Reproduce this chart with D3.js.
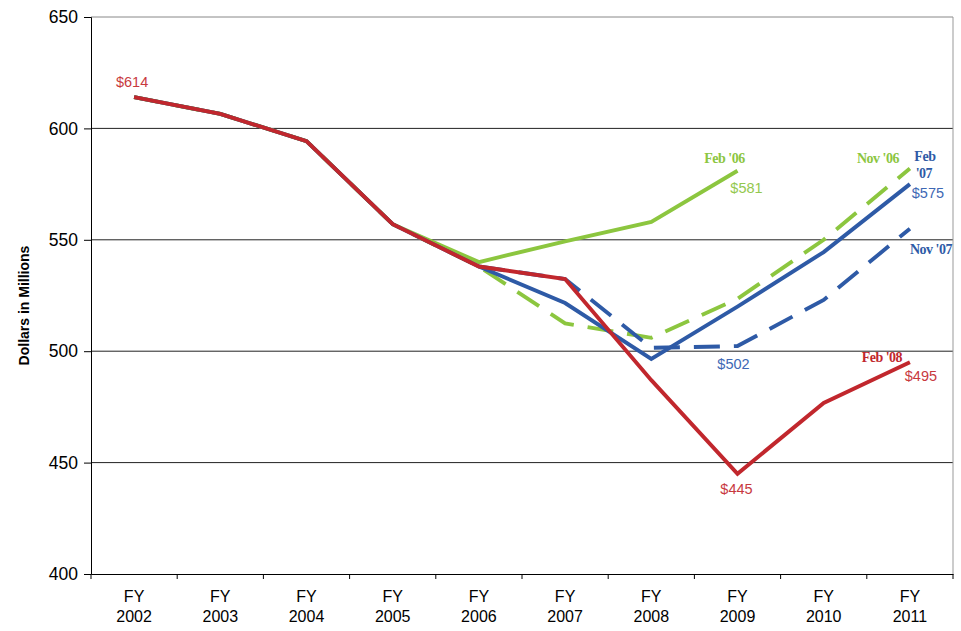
<!DOCTYPE html>
<html>
<head>
<meta charset="utf-8">
<script src="https://cdn.jsdelivr.net/npm/d3@7"></script>
<style>
  body { margin: 0; background: #fff; }
  text { font-family: "Liberation Sans", Arial, sans-serif; }
  .tag { font-family: "Liberation Serif", "Times New Roman", serif; font-weight: bold; letter-spacing: -0.5px; }
</style>
</head>
<body>
<svg id="chart" width="961" height="631"></svg>
<script>
const years = ["2002","2003","2004","2005","2006","2007","2008","2009","2010","2011"]
const yTicks = [400,450,500,550,600,650]

// estimates (dollars in millions); null = not plotted
const feb06 = [614,606.5,594.3,557,540,549.3,558,581,null,null]
const nov06 = [614,606.5,594.3,557,538,512.5,506,523.5,550,582]
const feb07 = [614,606.5,594.3,557,538,521.6,496.5,520,544.5,575]
const nov07 = [null,null,null,null,538,532.4,501.5,502.3,523,555]
const feb08 = [614,606.5,594.3,557,538,532.4,487,445,476.8,495]

const red = "#C1272D", green = "#8CC63F", blue = "#2E5AA6"

const series = [
  {name:"Nov '06", values:nov06, color:green, dash:"26,14"},
  {name:"Feb '06", values:feb06, color:green, dash:null},
  {name:"Nov '07", values:nov07, color:blue, dash:"26,14"},
  {name:"Feb '07", values:feb07, color:blue, dash:null},
  {name:"Feb '08", values:feb08, color:red, dash:null}
]

const margin = {top:17, right:8, bottom:57, left:91}
const width = 961, height = 631
const svg = d3.select("#chart")

const x = d3.scaleBand().domain(years).range([margin.left, width - margin.right])
const cx = d => x(d) + x.bandwidth() / 2
const y = d3.scaleLinear().domain([400,650]).range([height - margin.bottom, margin.top])

// grid
svg.append("g")
  .selectAll("line")
  .data(yTicks.slice(1))
  .join("line")
    .attr("x1", margin.left).attr("x2", width - margin.right)
    .attr("y1", d => y(d)).attr("y2", d => y(d))
    .attr("stroke", d => d === 650 ? "#888" : "#222")
    .attr("stroke-width", 1)

// right border
svg.append("line")
  .attr("x1", width - margin.right).attr("x2", width - margin.right)
  .attr("y1", margin.top).attr("y2", height - margin.bottom)
  .attr("stroke", "#999")

// y axis
const yAxis = svg.append("g")
  .attr("transform", `translate(${margin.left},0)`)
  .call(d3.axisLeft(y).tickValues(yTicks).tickSize(7).tickPadding(6))
yAxis.select(".domain").attr("stroke", "#000")
yAxis.selectAll(".tick line").attr("stroke", "#000")
yAxis.selectAll("text").attr("font-size", 17.5).attr("fill", "#000")
  .attr("font-family", "Liberation Sans, Arial, sans-serif")

// x axis
const xAxis = svg.append("g")
  .attr("transform", `translate(0,${height - margin.bottom})`)
  .call(d3.axisBottom(x).tickSize(0).tickFormat(""))
xAxis.select(".domain").attr("stroke", "#000")
xAxis.append("g")
  .selectAll("line")
  .data(years.concat(["end"]))
  .join("line")
    .attr("x1", (d, i) => i < years.length ? x(d) : x(years[years.length-1]) + x.bandwidth())
    .attr("x2", (d, i) => i < years.length ? x(d) : x(years[years.length-1]) + x.bandwidth())
    .attr("y1", 0).attr("y2", 5)
    .attr("stroke", "#000")
const xl = xAxis.append("g")
  .selectAll("text")
  .data(years)
  .join("text")
    .attr("x", d => cx(d))
    .attr("text-anchor", "middle")
    .attr("font-size", 16)
    .attr("fill", "#000")
xl.append("tspan").attr("x", d => cx(d)).attr("y", 28).text("FY")
xl.append("tspan").attr("x", d => cx(d)).attr("y", 48).text(d => d)

// y label
svg.append("text")
  .attr("transform", `translate(29,${(margin.top + height - margin.bottom)/2 + 10}) rotate(-90)`)
  .attr("text-anchor", "middle")
  .attr("font-size", 14)
  .attr("font-weight", "bold")
  .text("Dollars in Millions")

// lines
const line = d3.line()
  .defined(d => d.v !== null)
  .x(d => cx(d.year))
  .y(d => y(d.v))

svg.append("g")
  .selectAll("path")
  .data(series)
  .join("path")
    .attr("d", s => line(s.values.map((v, i) => ({year: years[i], v}))))
    .attr("fill", "none")
    .attr("stroke", s => s.color)
    .attr("stroke-width", 3.9)
    .attr("stroke-dasharray", s => s.dash)
    .attr("stroke-linejoin", "miter")

// annotations
const tags = [
  {t:"Feb '06", year:"2009", v:581, dx:-13, dy:-8, c:green},
  {t:"Nov '06", year:"2011", v:582, dx:-32, dy:-6, c:green},
  {t:"Feb", year:"2011", v:575, dx:15, dy:-23, c:blue},
  {t:"'07", year:"2011", v:575, dx:14, dy:-6, c:blue},
  {t:"Nov '07", year:"2011", v:555, dx:21, dy:25, c:blue},
  {t:"Feb '08", year:"2011", v:495, dx:-28, dy:0, c:red}
]
svg.append("g")
  .selectAll("text")
  .data(tags)
  .join("text")
    .attr("class", "tag")
    .attr("x", d => cx(d.year) + d.dx)
    .attr("y", d => y(d.v) + d.dy)
    .attr("text-anchor", "middle")
    .attr("font-size", 14)
    .attr("fill", d => d.c)
    .text(d => d.t)

const vals = [
  {t:"$614", year:"2002", v:614, dx:-2, dy:-10, c:"#C8393E"},
  {t:"$581", year:"2009", v:581, dx:9, dy:22, c:"#93C84E"},
  {t:"$575", year:"2011", v:575, dx:18, dy:14, c:"#3E68B4"},
  {t:"$502", year:"2009", v:502, dx:-4, dy:22, c:"#3E68B4"},
  {t:"$495", year:"2011", v:495, dx:11, dy:19, c:"#C8393E"},
  {t:"$445", year:"2009", v:445, dx:-1, dy:20, c:"#C8393E"}
]
svg.append("g")
  .selectAll("text")
  .data(vals)
  .join("text")
    .attr("x", d => cx(d.year) + d.dx)
    .attr("y", d => y(d.v) + d.dy)
    .attr("text-anchor", "middle")
    .attr("font-size", 14.5)
    .attr("fill", d => d.c)
    .text(d => d.t)
</script>
</body>
</html>
